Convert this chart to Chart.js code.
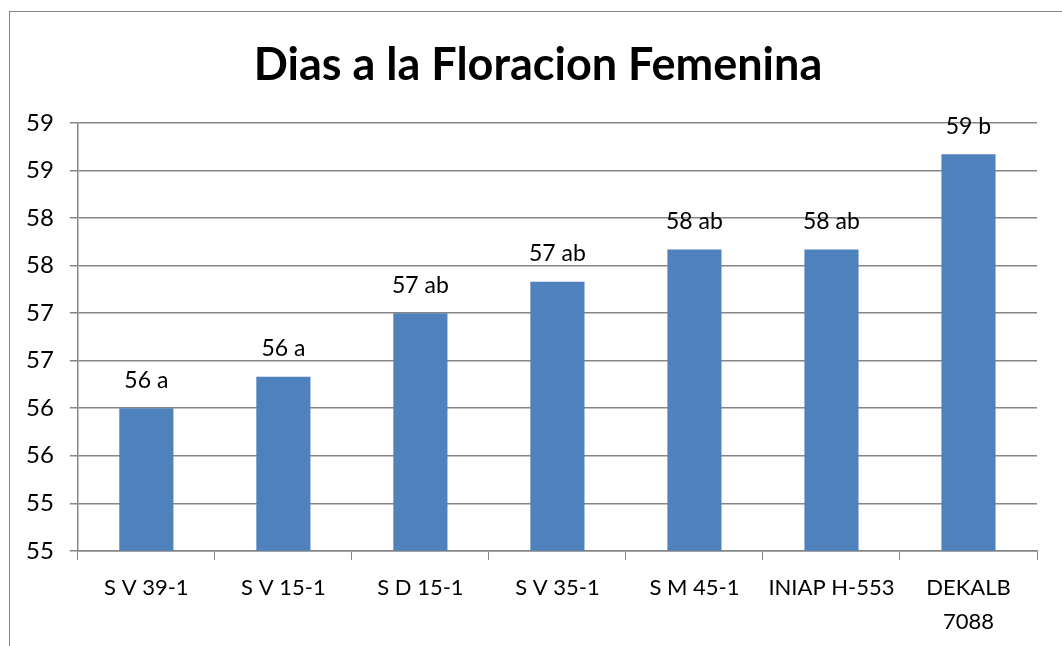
<!DOCTYPE html>
<html>
<head>
<meta charset="utf-8">
<script src="https://cdn.jsdelivr.net/npm/chart.js@4"></script>
<style>
  html, body { margin: 0; padding: 0; background: #fff; overflow: hidden; }
  #wrap { position: relative; width: 1062px; height: 646px; overflow: hidden; }
  #frame { position: absolute; left: 9px; top: 11px; width: 1200px; height: 800px; border: 1px solid #868686; box-sizing: border-box; }
  canvas { position: absolute; left: 0; top: 0; }
</style>
</head>
<body>
<div id="wrap">
  <div id="frame"></div>
  <canvas id="chart" width="1062" height="660"></canvas>
</div>
<script>
const categories = ['S V 39-1', 'S V 15-1', 'S D 15-1', 'S V 35-1', 'S M 45-1', 'INIAP H-553', ['DEKALB', '7088']];
const dias = [56.5, 56.83, 57.5, 57.83, 58.17, 58.17, 59.17];
const letras = ['a', 'a', 'ab', 'ab', 'ab', 'ab', 'b'];
const titulo = 'Dias a la Floracion Femenina';

const fontFamily = 'Lato, "Liberation Sans", sans-serif';

// etiquetas encima de cada barra (valor truncado + letra) y titulo
const barLabels = {
    id: 'barLabels',
    afterDatasetsDraw(chart) {
        const ctx = chart.ctx;
        const meta = chart.getDatasetMeta(0);
        ctx.save();
        ctx.font = '23px ' + fontFamily;
        ctx.fillStyle = '#000';
        ctx.textAlign = 'center';
        ctx.textBaseline = 'middle';
        meta.data.forEach(function(bar, i) {
            const txt = Math.floor(dias[i]) + ' ' + letras[i];
            ctx.fillText(txt, bar.x, bar.y - 28);
        });
        // el titulo va centrado en el marco, no en el area del grafico
        ctx.font = 'bold 45px ' + fontFamily;
        ctx.fillText(titulo, 538, 65);
        ctx.restore();
    }
};

new Chart(document.getElementById('chart').getContext('2d'), {
    type: 'bar',
    data: {
        labels: categories,
        datasets: [{
            data: dias,
            backgroundColor: '#4F81BD',
            borderWidth: 0,
            barPercentage: 0.395,
            categoryPercentage: 1
        }]
    },
    options: {
        responsive: false,
        animation: false,
        layout: { padding: { left: 10, right: 25, top: 123, bottom: 10 } },
        plugins: {
            legend: { display: false },
            tooltip: { enabled: false },
            title: { display: false }
        },
        scales: {
            x: {
                offset: true,
                grid: {
                    drawOnChartArea: false,
                    color: '#868686',
                    tickLength: 9,
                    offset: true
                },
                border: { color: '#868686', width: 1.5 },
                ticks: {
                    color: '#000',
                    font: { family: fontFamily, size: 22, lineHeight: 1.55 },
                    padding: 11,
                    maxRotation: 0,
                    autoSkip: false
                }
            },
            y: {
                min: 55,
                max: 59.5,
                grid: {
                    color: '#868686',
                    lineWidth: 1.5,
                    tickLength: 8
                },
                border: { color: '#868686', width: 1.5 },
                ticks: {
                    stepSize: 0.5,
                    color: '#000',
                    font: { family: fontFamily, size: 24 },
                    padding: 16,
                    callback: function(value) {
                        return Math.floor(value);
                    }
                }
            }
        }
    },
    plugins: [barLabels]
});
</script>
</body>
</html>
